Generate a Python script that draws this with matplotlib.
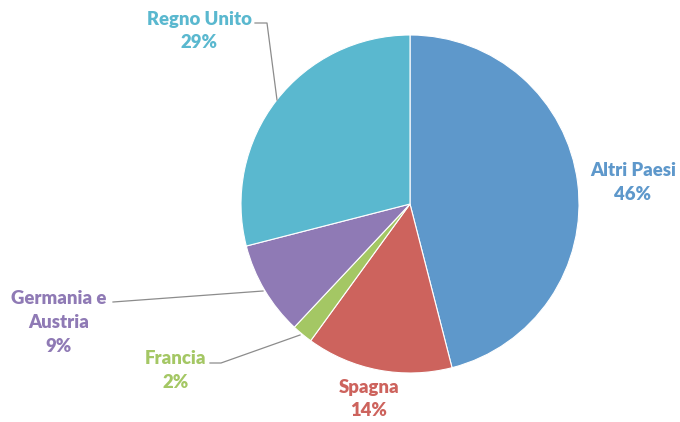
import matplotlib.pyplot as plt

labels = ["Altri Paesi", "Spagna", "Francia", "Germania e\nAustria", "Regno Unito"]
values = [46, 14, 2, 9, 29]
colors = ["#5E98CB", "#CD635D", "#A4C764", "#8F7AB5", "#5AB8CF"]

W, H = 680, 422
fig = plt.figure(figsize=(W / 100, H / 100), dpi=100)
ax = fig.add_axes([0, 0, 1, 1])

cx, cy, r = 410, H - 204, 169
wedges, _ = ax.pie(values, colors=colors, startangle=90, counterclock=False,
                   center=(cx, cy), radius=r, frame=True,
                   wedgeprops=dict(edgecolor="white", linewidth=0.8))
ax.set_xlim(0, W)
ax.set_ylim(0, H)
ax.set_aspect("equal")
ax.axis("off")

def Y(y):
    return H - y

font = dict(family=["Lato", "DejaVu Sans"], fontweight="heavy", fontsize=13.3,
            ha="center", va="center", linespacing=1.5)

# label positions (pixel coords from top)
lab_pos = [(633, 182), (369, 399), (176, 371), (59, 322), (199, 31)]
for lab, v, c, (x, y) in zip(labels, values, colors, lab_pos):
    ax.text(x, Y(y), f"{lab}\n{v}%", color=c, **font)

lc = "#8C8C8C"
# leader lines
ax.plot([255, 267, 277], [Y(23), Y(23), Y(100)], color=lc, lw=0.9)
ax.plot([113, 263], [Y(302), Y(291)], color=lc, lw=0.9)
ax.plot([210, 221, 300], [Y(363), Y(363), Y(335)], color=lc, lw=0.9)

fig.savefig("out.png", dpi=100, facecolor="white")
